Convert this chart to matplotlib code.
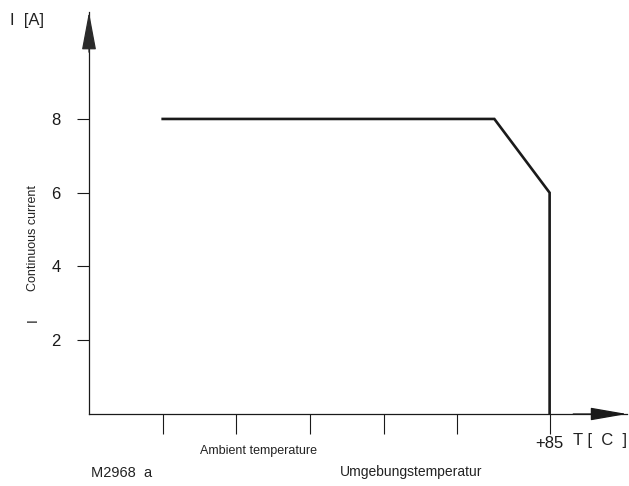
import matplotlib
matplotlib.use("Agg")
import matplotlib.pyplot as plt

plt.rcParams['font.family'] = ['Liberation Sans Narrow', 'Liberation Sans', 'DejaVu Sans']

# Kennlinie: Dauerstrom ueber Umgebungstemperatur
temp = [-20, 70, 85, 85]
current = [8, 8, 6, 0]

x_ticks = [-20, 0, 20, 40, 60, 85]
x_labels = ['', '', '', '', '', '+85']
y_ticks = [2, 4, 6, 8]
y_labels = ['2', '4', '6', '8']

fig = plt.figure(figsize=(6.29, 4.86), dpi=100)
ax = fig.add_axes([89 / 629, 72 / 486, 538 / 629, 402 / 486])

ax.plot(temp, current, color='#1a1a1a', lw=1.9, solid_joinstyle='miter')

ax.set_xlim(-40, 106)
ax.set_ylim(0, 10.9)
for s in ['top', 'right']:
    ax.spines[s].set_visible(False)
for s in ['left', 'bottom']:
    ax.spines[s].set_linewidth(0.9)
    ax.spines[s].set_color('#1a1a1a')

ax.set_xticks(x_ticks)
ax.set_xticklabels(x_labels, fontsize=12)
ax.set_yticks(y_ticks)
ax.set_yticklabels(y_labels, fontsize=12)
ax.tick_params(axis='x', direction='out', length=14.5, width=0.8, pad=1, colors='#1a1a1a')
ax.tick_params(axis='y', direction='out', length=8.5, width=0.8, pad=12, colors='#1a1a1a')

# Pfeilspitzen an den Achsen
ax.annotate('', xy=(0, 1), xytext=(0, 0.90), xycoords='axes fraction',
            arrowprops=dict(arrowstyle='-|>,head_length=24,head_width=4.5',
                            mutation_scale=1, color='#2a2a2a', lw=0.9,
                            shrinkA=0, shrinkB=0))
ax.annotate('', xy=(1, 0), xytext=(0.9, 0), xycoords='axes fraction',
            arrowprops=dict(arrowstyle='-|>,head_length=23,head_width=4.0',
                            mutation_scale=1, color='#1a1a1a', lw=0.9,
                            shrinkA=0, shrinkB=0))

fig.text(10 / 629, 1 - 20 / 486, 'I  [A]', fontsize=12, va='center', ha='left', color='#222222')
fig.text(33 / 629, 1 - 238 / 486, 'Continuous current', fontsize=9, rotation=90,
         va='center', ha='center', color='#222222')
fig.text(33 / 629, 1 - 320 / 486, 'I', fontsize=10, rotation=90,
         va='center', ha='center', color='#222222')
fig.text(573 / 629, 1 - 440 / 486, 'T [  C  ]', fontsize=12, va='center', ha='left', color='#222222')
fig.text(259 / 629, 1 - 451 / 486, 'Ambient temperature', fontsize=9, va='center',
         ha='center', color='#222222')
fig.text(411 / 629, 1 - 472 / 486, 'Umgebungstemperatur', fontsize=10, va='center',
         ha='center', color='#222222')
fig.text(91 / 629, 1 - 473 / 486, 'M2968  a', fontsize=10.5, va='center', ha='left',
         color='#222222')

fig.savefig('out.png', dpi=100, facecolor='white')
